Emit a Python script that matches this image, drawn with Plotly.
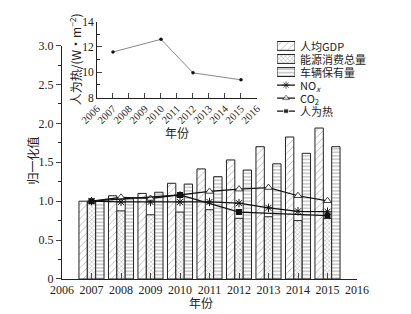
import plotly.graph_objects as go

years = [2007, 2008, 2009, 2010, 2011, 2012, 2013, 2014, 2015]
gdp = [1.00, 1.07, 1.10, 1.23, 1.415, 1.53, 1.70, 1.825, 1.94]
energy = [1.00, 0.875, 0.825, 0.86, 0.89, 0.78, 0.80, 0.75, 0.78]
vehicles = [1.00, 1.03, 1.115, 1.22, 1.315, 1.40, 1.48, 1.615, 1.70]
nox = [1.00, 0.99, 0.99, 0.99, 0.99, 0.975, 0.915, 0.87, 0.865]
co2 = [1.00, 1.05, 1.035, 1.08, 1.125, 1.155, 1.175, 1.07, 1.005]
heat_years = [2007, 2010, 2012, 2015]
heat_norm = [1.00, 1.08, 0.86, 0.815]
heat_abs = [11.6, 12.6, 9.95, 9.4]

main_yticks = [0, 0.5, 1.0, 1.5, 2.0, 2.5, 3.0]
main_yticktext = ["0", "0.5", "1.0", "1.5", "2.0", "2.5", "3.0"]
xticks = list(range(2006, 2017))
legend_names = ["人均GDP", "能源消费总量", "车辆保有量", "NO<sub><i>x</i></sub>", "CO<sub>2</sub>", "人为热"]

FONT = "Liberation Serif, Times New Roman, Noto Sans CJK SC, serif"
CJK = "Noto Sans CJK SC, Liberation Serif, serif"
INK = "#222"
PAT = "#555"

patterns = [
    dict(shape="/", fgcolor=PAT, bgcolor="white", size=5, solidity=0.15),
    dict(shape="x", fgcolor=PAT, bgcolor="white", size=3, solidity=0.3),
    dict(shape="-", fgcolor=PAT, bgcolor="white", size=3.5, solidity=0.3),
]

fig = go.Figure()

for vals, name, pat in zip([gdp, energy, vehicles], legend_names[:3], patterns):
    fig.add_trace(go.Bar(x=years, y=vals, name=name, showlegend=False,
                         marker=dict(color="white", line=dict(color=INK, width=1), pattern=pat)))

line_style = dict(color="#111", width=1.2)
mk_nox = dict(symbol="asterisk-open", size=7, color="#111", line=dict(color="#111", width=1))
mk_co2 = dict(symbol="triangle-up", size=7, color="white", line=dict(color="#111", width=0.8))
mk_heat = dict(symbol="square", size=6, color="#111")

fig.add_trace(go.Scatter(x=years, y=nox, mode="lines+markers", showlegend=False, line=line_style, marker=mk_nox))
fig.add_trace(go.Scatter(x=years, y=co2, mode="lines+markers", showlegend=False, line=line_style, marker=mk_co2))
fig.add_trace(go.Scatter(x=heat_years, y=heat_norm, mode="lines+markers", showlegend=False, line=line_style, marker=mk_heat))

# inset
fig.add_trace(go.Scatter(x=heat_years, y=heat_abs, xaxis="x2", yaxis="y2", mode="lines+markers",
                         showlegend=False, line=dict(color="#888", width=1),
                         marker=dict(symbol="circle", size=3.5, color="#111")))

# custom compact legend (symbols on a hidden axis)
fig.add_trace(go.Bar(x=[1, 1, 1], y=[0.5, 1.5, 2.5], orientation="h", width=0.68, base=0,
                     xaxis="x3", yaxis="y3", showlegend=False, hoverinfo="skip",
                     marker=dict(color="white", line=dict(color=INK, width=1),
                                 pattern=dict(shape=[p["shape"] for p in patterns],
                                              size=[p["size"] for p in patterns],
                                              solidity=[p["solidity"] for p in patterns],
                                              fgcolor=PAT, bgcolor="white"))))
for row, mk in zip([3.5, 4.5, 5.5], [mk_nox, mk_co2, mk_heat]):
    m = dict(mk)
    m["size"] = [0, mk["size"] - 1, 0]
    fig.add_trace(go.Scatter(x=[0, 0.5, 1], y=[row] * 3, mode="lines+markers", xaxis="x3", yaxis="y3",
                             showlegend=False, hoverinfo="skip", line=dict(color="#111", width=1.2), marker=m))
for i, name in enumerate(legend_names):
    fig.add_annotation(text=name, x=0.805, y=i + 0.5, xref="paper", yref="y3", showarrow=False,
                       xanchor="left", yanchor="middle", font=dict(family=CJK, size=11, color=INK),
                       borderpad=0)

fig.update_layout(
    width=411, height=314,
    margin=dict(l=62, r=54, t=10, b=35),
    paper_bgcolor="white", plot_bgcolor="white",
    barmode="group", bargap=0.15, bargroupgap=0,
    font=dict(family=FONT, size=12, color=INK),
    showlegend=False,
    xaxis=dict(range=[2006, 2016], tickvals=xticks, ticks="inside", ticklen=6,
               showline=True, linecolor=INK, linewidth=1, showgrid=False, zeroline=False,
               tickfont=dict(size=12, family=FONT), domain=[0, 1]),
    yaxis=dict(range=[0, 3.0], tickvals=main_yticks, ticktext=main_yticktext, ticks="outside", ticklen=5,
               minor=dict(dtick=0.25, ticks="outside", ticklen=3, tickcolor=INK),
               showline=True, linecolor=INK, linewidth=1, showgrid=False, zeroline=False,
               tickfont=dict(size=12, family=FONT), domain=[0, 0.891]),
    xaxis2=dict(range=[2006, 2016], tickvals=xticks, ticks="inside", ticklen=5, tickangle=-45,
                showline=True, linecolor=INK, linewidth=1, showgrid=False, zeroline=False,
                tickfont=dict(size=10.5, family=FONT), domain=[0.1186, 0.661], anchor="y2"),
    yaxis2=dict(range=[8, 14], tickvals=[8, 10, 12, 14], ticks="inside", ticklen=5,
                minor=dict(dtick=1, ticks="inside", ticklen=3, tickcolor=INK),
                showline=True, linecolor=INK, linewidth=1, showgrid=False, zeroline=False,
                tickfont=dict(size=11.5, family=FONT), domain=[0.6926, 0.9825], anchor="x2"),
    xaxis3=dict(range=[0, 1], domain=[0.729, 0.79], visible=False, anchor="y3", fixedrange=True),
    yaxis3=dict(range=[6, 0], domain=[0.6156, 0.9145], visible=False, anchor="x3", fixedrange=True),
)

fig.add_annotation(text="年份", x=0.47, y=-0.089, xref="paper", yref="paper", showarrow=False,
                   font=dict(family=CJK, size=12), yanchor="middle")
fig.add_annotation(text="归一化值", x=-0.1, y=0.45, xref="paper", yref="paper", showarrow=False,
                   textangle=-90, font=dict(family=CJK, size=12), xanchor="center")
fig.add_annotation(text="年份", x=0.39, y=0.561, xref="paper", yref="paper", showarrow=False,
                   font=dict(family=CJK, size=12), yanchor="middle")
fig.add_annotation(text="人为热/(W·m<sup>−2</sup>)", x=0.045, y=0.84, xref="paper", yref="paper", showarrow=False,
                   textangle=-90, font=dict(family=CJK, size=12), xanchor="center", yanchor="middle")

fig.write_html("out.html", config={"displayModeBar": False},
               post_script="document.body.style.margin='0';document.body.style.overflow='hidden';")
